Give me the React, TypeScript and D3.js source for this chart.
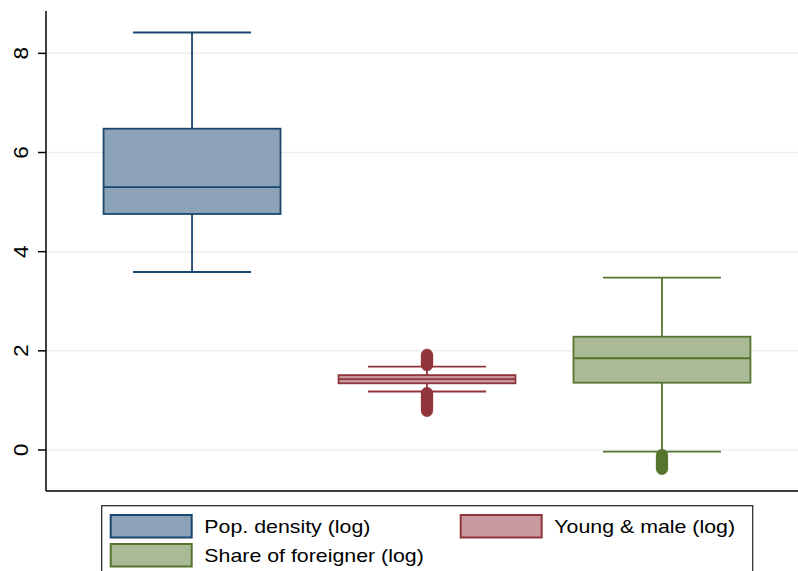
import React from "react";
import * as d3 from "d3";

// Variables shown as box plots (summary statistics per variable)
const categories = ["Pop. density (log)", "Young & male (log)", "Share of foreigner (log)"];
const upperWhisker = [8.42, 1.68, 3.475];
const q3 = [6.48, 1.51, 2.285];
const median = [5.3, 1.43, 1.85];
const q1 = [4.76, 1.345, 1.357];
const lowerWhisker = [3.59, 1.18, -0.034];

// Outside values for each variable
const outliersDensity: number[] = [];
const outliersYoungMale = [
  1.71, 1.74, 1.77, 1.8, 1.83, 1.86, 1.89, 1.92,
  1.15, 1.12, 1.08, 1.05, 1.01, 0.98, 0.94, 0.9, 0.87, 0.83, 0.79,
];
const outliersForeigner = [-0.1, -0.14, -0.18, -0.23, -0.27, -0.31, -0.35, -0.38];
const outliers = [outliersDensity, outliersYoungMale, outliersForeigner];

const yTicks = [0, 2, 4, 6, 8];

const strokeColors = ["#1a476f", "#90353b", "#55752f"];
const fillColors = ["#8ca3b7", "#c79a9d", "#aaba97"];

const W = 798;
const H = 571;
const plotLeft = 46;
const plotRight = 808;
const plotTop = 11;
const plotBottom = 491;

const FONT = "'Liberation Sans', Arial, Helvetica, sans-serif";

export default function App() {
  const y = d3.scaleLinear().domain([-0.827, 8.854]).range([plotBottom, plotTop]);
  const x = d3
    .scaleBand<string>()
    .domain(categories)
    .range([plotLeft, plotRight])
    .paddingInner(0.247)
    .paddingOuter(0.245);
  const bw = x.bandwidth();
  const capHalf = bw / 3;

  // legend layout
  const legendItems = [
    { i: 0, x: 110.7, y: 515 },
    { i: 1, x: 460.7, y: 515 },
    { i: 2, x: 110.7, y: 544 },
  ];

  return (
    <svg
      width={W}
      height={H}
      style={{ position: "absolute", left: 0, top: 0, background: "#fff" }}
      fontFamily={FONT}
    >
      <rect x={0} y={0} width={W} height={H} fill="#fff" />
      {/* grid lines */}
      {yTicks.map((t) => (
        <line
          key={"g" + t}
          x1={plotLeft}
          x2={W}
          y1={y(t)}
          y2={y(t)}
          stroke="#eaf0f2"
          strokeWidth={1.5}
        />
      ))}

      {/* boxes */}
      {categories.map((c, i) => {
        const x0 = x(c)!;
        const cx = x0 + bw / 2;
        const sc = strokeColors[i];
        return (
          <g key={c}>
            <line x1={cx} x2={cx} y1={y(upperWhisker[i])} y2={y(q3[i])} stroke={sc} strokeWidth={1.8} />
            <line x1={cx} x2={cx} y1={y(q1[i])} y2={y(lowerWhisker[i])} stroke={sc} strokeWidth={1.8} />
            <line
              x1={cx - capHalf}
              x2={cx + capHalf}
              y1={y(upperWhisker[i])}
              y2={y(upperWhisker[i])}
              stroke={sc}
              strokeWidth={1.8}
            />
            <line
              x1={cx - capHalf}
              x2={cx + capHalf}
              y1={y(lowerWhisker[i])}
              y2={y(lowerWhisker[i])}
              stroke={sc}
              strokeWidth={1.8}
            />
            <rect
              x={x0}
              y={y(q3[i])}
              width={bw}
              height={y(q1[i]) - y(q3[i])}
              fill={fillColors[i]}
              stroke={sc}
              strokeWidth={1.8}
            />
            <line x1={x0} x2={x0 + bw} y1={y(median[i])} y2={y(median[i])} stroke={sc} strokeWidth={1.8} />
            {outliers[i].map((v, k) => (
              <circle key={k} cx={cx} cy={y(v)} r={5.8} fill={sc} stroke={sc} strokeWidth={0.5} />
            ))}
          </g>
        );
      })}

      {/* y axis */}
      <line x1={plotLeft} x2={plotLeft} y1={plotTop} y2={plotBottom} stroke="#000" strokeWidth={1.5} />
      {yTicks.map((t) => (
        <g key={"t" + t}>
          <line x1={plotLeft - 8} x2={plotLeft} y1={y(t)} y2={y(t)} stroke="#000" strokeWidth={1.5} />
          <text
            transform={`translate(28,${y(t)}) rotate(-90) scale(1.1,1)`}
            textAnchor="middle"
            fontSize={20.5}
            fill="#000"
          >
            {t}
          </text>
        </g>
      ))}
      {/* x axis line */}
      <line x1={plotLeft} x2={W} y1={plotBottom} y2={plotBottom} stroke="#000" strokeWidth={1.5} />

      {/* legend */}
      <rect x={101.7} y={505.7} width={651} height={80} fill="#fff" stroke="#222" strokeWidth={1.2} />
      {legendItems.map(({ i, x: lx, y: ly }) => (
        <g key={"l" + i}>
          <rect x={lx} y={ly} width={81} height={22.5} fill={fillColors[i]} stroke={strokeColors[i]} strokeWidth={2} />
          <text
            transform={`translate(${lx + 93.6},${ly + 17.7}) scale(1.22,1)`}
            fontSize={17.5}
            fill="#000"
          >
            {categories[i]}
          </text>
        </g>
      ))}
    </svg>
  );
}
